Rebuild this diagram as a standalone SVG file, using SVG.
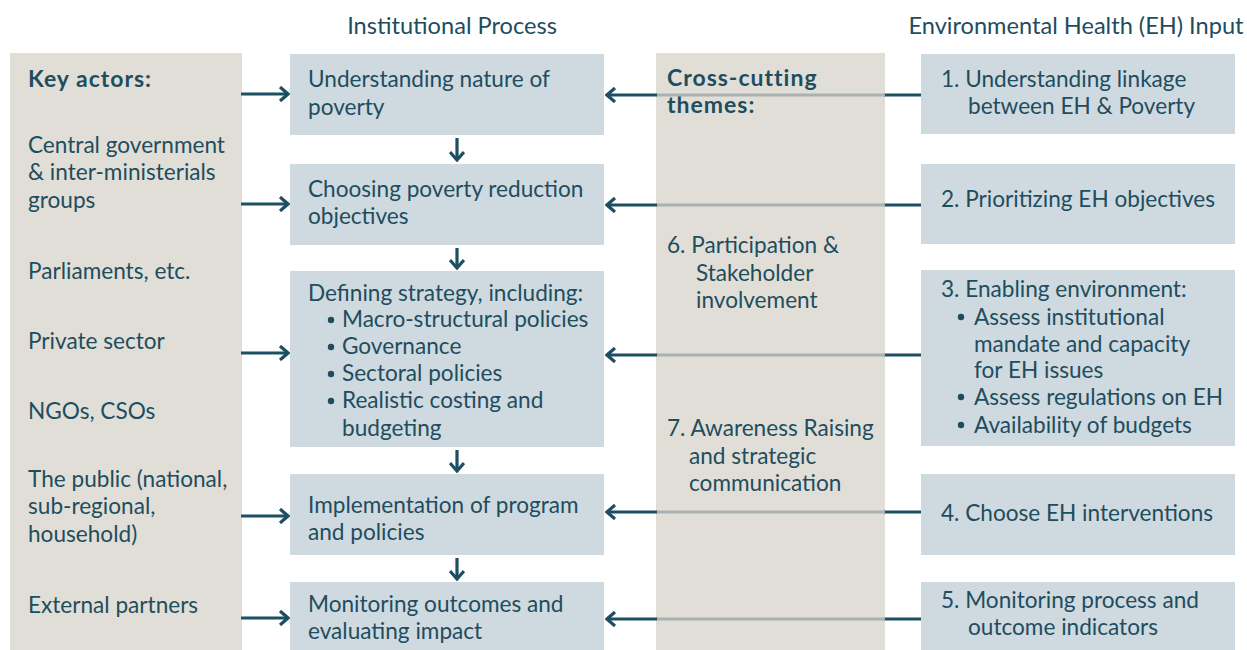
<svg xmlns="http://www.w3.org/2000/svg" width="1247" height="650" viewBox="0 0 1247 650">
<style>
text{font-family:Lato,"Liberation Sans",sans-serif;font-size:22.6px;fill:#1e4d5e}
.h{font-size:23.6px}
.b{font-weight:bold;font-size:23px;letter-spacing:1px}
.box{fill:#cfd9e0}
.panel{fill:#e1ded7}
.dk{stroke:#1d4f63;stroke-width:3.2;fill:none}
.gr{stroke:#a9b2b0;stroke-width:3.2;fill:none}
</style>
<defs>
<marker id="ah" viewBox="0 0 12 16" refX="10" refY="8" markerWidth="12" markerHeight="16" markerUnits="userSpaceOnUse" orient="auto">
<path d="M2,1 L10,8 L2,15" fill="none" stroke="#1d4f63" stroke-width="3.2"/>
</marker>
</defs>
<g id="headers">
<text class="h" x="452" y="34" text-anchor="middle">Institutional Process</text>
<text class="h" x="1076" y="34" text-anchor="middle">Environmental Health (EH) Input</text>
</g>
<g id="key-actors">
<rect class="panel" x="10" y="53" width="232" height="597"/>
<text class="b" x="28" y="87">Key actors:</text>
<text x="28" y="153">Central government</text>
<text x="28" y="180">&amp; inter-ministerials</text>
<text x="28" y="208">groups</text>
<text x="28" y="279">Parliaments, etc.</text>
<text x="28" y="349">Private sector</text>
<text x="28" y="419">NGOs, CSOs</text>
<text x="28" y="487">The public (national,</text>
<text x="28" y="514">sub-regional,</text>
<text x="28" y="542">household)</text>
<text x="28" y="613">External partners</text>
</g>
<g id="cross-cutting">
<rect class="panel" x="656" y="53" width="229" height="597"/>
<text class="b" x="667" y="86">Cross-cutting</text>
<text class="b" x="667" y="113">themes:</text>
<text x="667" y="253">6. Participation &amp;</text>
<text x="696" y="281">Stakeholder</text>
<text x="696" y="308">involvement</text>
<text x="667" y="436">7. Awareness Raising</text>
<text x="689" y="464">and strategic</text>
<text x="689" y="491">communication</text>
</g>
<g id="inst-1">
<rect class="box" x="290" y="54" width="314" height="81"/>
<text x="308" y="87">Understanding nature of</text>
<text x="308" y="115">poverty</text>
</g>
<g id="inst-2">
<rect class="box" x="290" y="164" width="314" height="81"/>
<text x="308" y="197">Choosing poverty reduction</text>
<text x="308" y="224">objectives</text>
</g>
<g id="inst-3">
<rect class="box" x="290" y="271" width="314" height="176"/>
<text x="308" y="301">Defining strategy, including:</text>
<circle cx="331" cy="320" r="3.2" fill="#1e4d5e"/>
<text x="342" y="327">Macro-structural policies</text>
<circle cx="331" cy="347" r="3.2" fill="#1e4d5e"/>
<text x="342" y="354">Governance</text>
<circle cx="331" cy="374" r="3.2" fill="#1e4d5e"/>
<text x="342" y="381">Sectoral policies</text>
<circle cx="331" cy="401" r="3.2" fill="#1e4d5e"/>
<text x="342" y="408">Realistic costing and</text>
<text x="342" y="436">budgeting</text>
</g>
<g id="inst-4">
<rect class="box" x="290" y="474" width="314" height="81"/>
<text x="308" y="513">Implementation of program</text>
<text x="308" y="540">and policies</text>
</g>
<g id="inst-5">
<rect class="box" x="290" y="582" width="314" height="68"/>
<text x="308" y="612">Monitoring outcomes and</text>
<text x="308" y="639">evaluating impact</text>
</g>
<g id="eh-1">
<rect class="box" x="921" y="54" width="314" height="80"/>
<text x="941" y="87">1. Understanding linkage</text>
<text x="968" y="114">between EH &amp; Poverty</text>
</g>
<g id="eh-2">
<rect class="box" x="921" y="164" width="314" height="80"/>
<text x="941" y="207">2. Prioritizing EH objectives</text>
</g>
<g id="eh-3">
<rect class="box" x="921" y="270" width="314" height="176"/>
<text x="941" y="297">3. Enabling environment:</text>
<circle cx="961" cy="317" r="3.2" fill="#1e4d5e"/>
<text x="974" y="325">Assess institutional</text>
<text x="974" y="352">mandate and capacity</text>
<text x="974" y="378">for EH issues</text>
<circle cx="961" cy="397" r="3.2" fill="#1e4d5e"/>
<text x="974" y="405">Assess regulations on EH</text>
<circle cx="961" cy="425" r="3.2" fill="#1e4d5e"/>
<text x="974" y="433">Availability of budgets</text>
</g>
<g id="eh-4">
<rect class="box" x="921" y="474" width="314" height="81"/>
<text x="941" y="521">4. Choose EH interventions</text>
</g>
<g id="eh-5">
<rect class="box" x="921" y="582" width="314" height="68"/>
<text x="941" y="608">5. Monitoring process and</text>
<text x="968" y="635">outcome indicators</text>
</g>
<g id="connectors">
<line class="dk" x1="241" y1="94" x2="288" y2="94" marker-end="url(#ah)"/>
<line class="dk" x1="241" y1="204" x2="288" y2="204" marker-end="url(#ah)"/>
<line class="dk" x1="241" y1="353" x2="288" y2="353" marker-end="url(#ah)"/>
<line class="dk" x1="241" y1="516" x2="288" y2="516" marker-end="url(#ah)"/>
<line class="dk" x1="241" y1="618" x2="288" y2="618" marker-end="url(#ah)"/>
<line class="dk" x1="457" y1="138" x2="457" y2="160" marker-end="url(#ah)"/>
<line class="dk" x1="457" y1="248" x2="457" y2="268" marker-end="url(#ah)"/>
<line class="dk" x1="457" y1="450" x2="457" y2="471" marker-end="url(#ah)"/>
<line class="dk" x1="457" y1="558" x2="457" y2="579" marker-end="url(#ah)"/>
<g id="eh-links">
<line class="dk" x1="921" y1="95" x2="884" y2="95"/>
<line class="gr" x1="885" y1="95" x2="656" y2="95"/>
<line class="dk" x1="657" y1="95" x2="607" y2="95" marker-end="url(#ah)"/>
<line class="dk" x1="921" y1="205" x2="884" y2="205"/>
<line class="gr" x1="885" y1="205" x2="656" y2="205"/>
<line class="dk" x1="657" y1="205" x2="607" y2="205" marker-end="url(#ah)"/>
<line class="dk" x1="921" y1="355" x2="884" y2="355"/>
<line class="gr" x1="885" y1="355" x2="656" y2="355"/>
<line class="dk" x1="657" y1="355" x2="607" y2="355" marker-end="url(#ah)"/>
<line class="dk" x1="921" y1="512" x2="884" y2="512"/>
<line class="gr" x1="885" y1="512" x2="656" y2="512"/>
<line class="dk" x1="657" y1="512" x2="607" y2="512" marker-end="url(#ah)"/>
<line class="dk" x1="921" y1="619" x2="884" y2="619"/>
<line class="gr" x1="885" y1="619" x2="656" y2="619"/>
<line class="dk" x1="657" y1="619" x2="607" y2="619" marker-end="url(#ah)"/>
</g>
</g>
</svg>
